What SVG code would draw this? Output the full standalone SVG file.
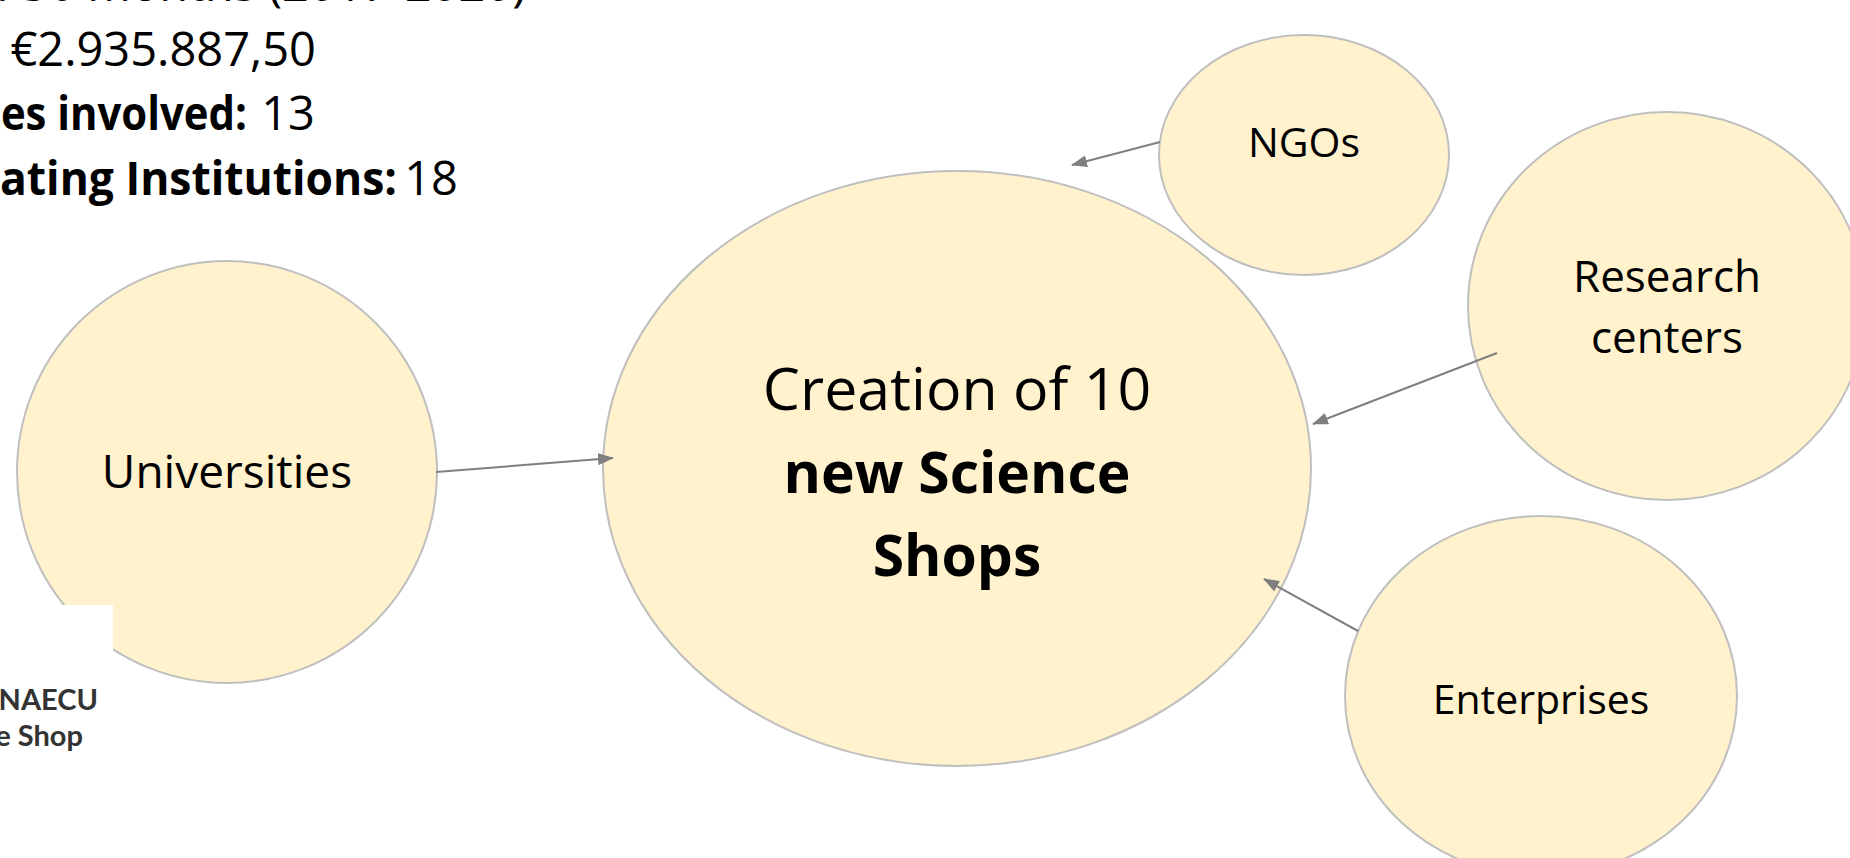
<svg xmlns="http://www.w3.org/2000/svg" width="1850" height="858" viewBox="0 0 1850 858">
<style>
.node{fill:#fff2cc;stroke:#bfbfbf;stroke-width:2}
.lbl{font-family:"Open Sans","Noto Sans",sans-serif;fill:#000;text-anchor:middle}
.info{font-family:"Open Sans","Noto Sans",sans-serif;fill:#000;font-size:47px}
.b{font-weight:bold}
.logo{font-family:Lato,"Open Sans",sans-serif;font-weight:bold;fill:#333;font-size:29px;text-anchor:end}
.conn{stroke:#7f7f7f;stroke-width:2;fill:none;marker-end:url(#arr)}
</style>
<defs>
<marker id="arr" viewBox="0 0 16 12" refX="15" refY="6" markerWidth="16" markerHeight="12" markerUnits="userSpaceOnUse" orient="auto">
<path d="M0,0 L16,6 L0,12 Z" fill="#7f7f7f"/>
</marker>
</defs>
<rect width="1850" height="858" fill="#fff"/>
<g id="info">
<text class="info" x="526" y="1" text-anchor="end"><tspan class="b">n:</tspan> 36 months (2017-2020)</text>
<text class="info" x="316" y="66" text-anchor="end">€2.935.887,50</text>
<text class="info b" x="1" y="130" transform="scale(0.89,1)">es involved:</text>
<text class="info" x="315" y="130" text-anchor="end">13</text>
<text class="info b" x="0" y="195" transform="scale(0.945,1)">ating Institutions:</text>
<text class="info" x="458" y="195" text-anchor="end">18</text>
</g>
<g id="universities">
<ellipse class="node" cx="227" cy="472" rx="210" ry="211"/>
<text class="lbl" x="227" y="488" font-size="46">Universities</text>
</g>
<g id="logo">
<rect x="-2" y="605" width="115" height="90" fill="#fff"/>
<text class="logo" x="98" y="710">NAECU</text>
<text class="logo" x="83" y="746">e Shop</text>
</g>
<g id="main">
<ellipse class="node" cx="957" cy="468.5" rx="354" ry="297.5"/>
<text class="lbl" x="957" y="410" font-size="59">Creation of 10</text>
<text class="lbl b" x="957" y="493" font-size="57">new Science</text>
<text class="lbl b" x="957" y="576" font-size="57">Shops</text>
</g>
<g id="ngos">
<ellipse class="node" cx="1304" cy="155" rx="145" ry="120"/>
<text class="lbl" x="1304" y="157" font-size="41">NGOs</text>
</g>
<g id="research">
<ellipse class="node" cx="1667" cy="306" rx="199" ry="194"/>
<text class="lbl" x="1667" y="292" font-size="44">Research</text>
<text class="lbl" x="1667" y="353" font-size="44">centers</text>
</g>
<g id="enterprises">
<ellipse class="node" cx="1541" cy="696" rx="196" ry="180"/>
<text class="lbl" x="1541" y="714" font-size="41">Enterprises</text>
</g>
<g id="connectors">
<path class="conn" d="M436,472 L613,458"/>
<path class="conn" d="M1160,142 L1072,165"/>
<path class="conn" d="M1497,353 L1313,424"/>
<path class="conn" d="M1358,631 L1264,579"/>
</g>
</svg>
